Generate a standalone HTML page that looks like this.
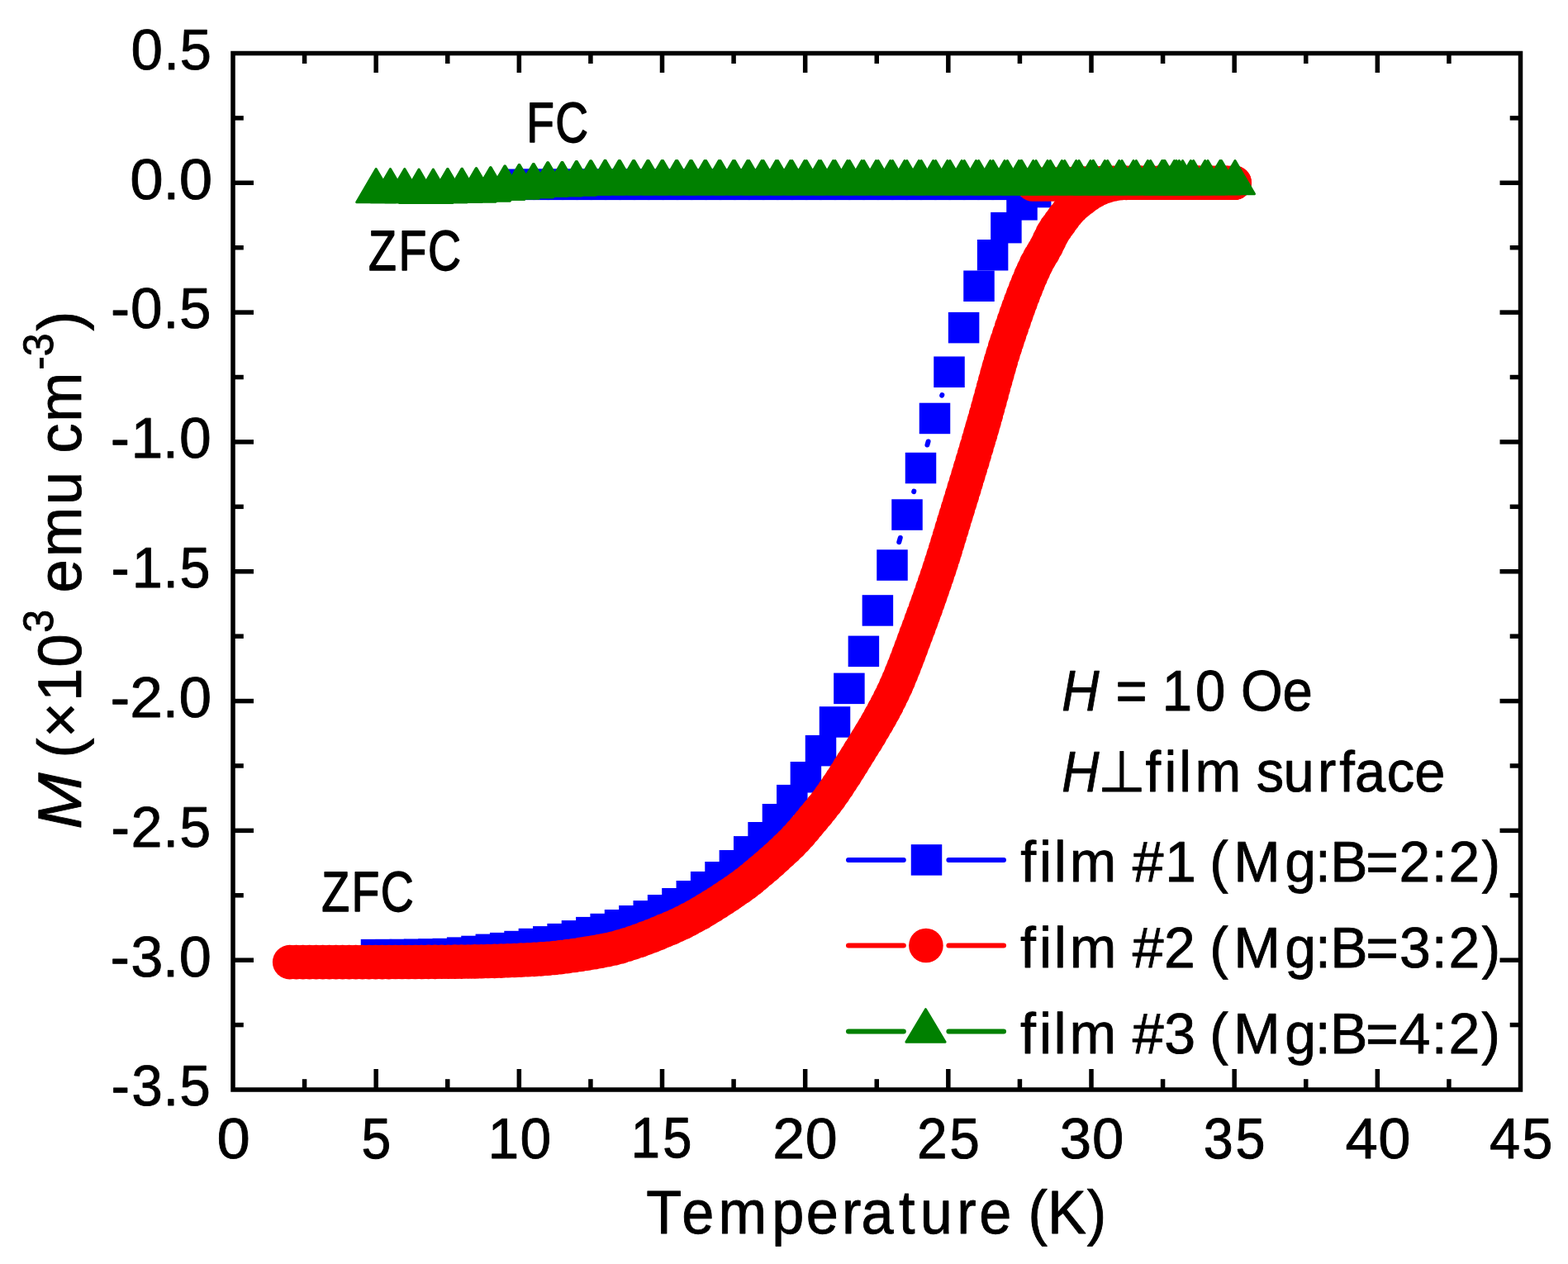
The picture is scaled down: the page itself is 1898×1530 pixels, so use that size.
<!DOCTYPE html>
<html lang="en">
<head>
<meta charset="utf-8">
<title>M vs Temperature</title>
<style>
html,body{margin:0;padding:0;background:#fff;}
body{width:1898px;height:1530px;overflow:hidden;font-family:'Liberation Sans', sans-serif;}
svg{display:block;}
</style>
</head>
<body>
<svg width="1898" height="1530" viewBox="0 0 1898 1530">
<rect x="0" y="0" width="1898" height="1530" fill="#ffffff"/>
<g stroke="#0000ff" stroke-width="6" stroke-linecap="round" fill="none">
<line x1="1088.25" y1="656.10" x2="1089.75" y2="651.00"/>
<line x1="1106.17" y1="595.08" x2="1106.33" y2="594.52"/>
<line x1="1122.43" y1="538.51" x2="1123.57" y2="534.49"/>
<line x1="1140.16" y1="478.63" x2="1140.34" y2="478.07"/>
</g>
<g fill="#0000ff">
<rect x="436.75" y="1136.90" width="37.5" height="37.5"/>
<rect x="454.11" y="1136.90" width="37.5" height="37.5"/>
<rect x="471.46" y="1136.80" width="37.5" height="37.5"/>
<rect x="488.81" y="1136.60" width="37.5" height="37.5"/>
<rect x="506.17" y="1136.30" width="37.5" height="37.5"/>
<rect x="523.52" y="1135.80" width="37.5" height="37.5"/>
<rect x="540.88" y="1134.40" width="37.5" height="37.5"/>
<rect x="558.24" y="1132.70" width="37.5" height="37.5"/>
<rect x="575.59" y="1130.60" width="37.5" height="37.5"/>
<rect x="592.94" y="1128.90" width="37.5" height="37.5"/>
<rect x="610.30" y="1126.80" width="37.5" height="37.5"/>
<rect x="627.65" y="1123.80" width="37.5" height="37.5"/>
<rect x="645.01" y="1121.10" width="37.5" height="37.5"/>
<rect x="662.37" y="1117.90" width="37.5" height="37.5"/>
<rect x="679.72" y="1114.10" width="37.5" height="37.5"/>
<rect x="697.08" y="1109.90" width="37.5" height="37.5"/>
<rect x="714.43" y="1105.80" width="37.5" height="37.5"/>
<rect x="731.79" y="1101.00" width="37.5" height="37.5"/>
<rect x="749.14" y="1096.00" width="37.5" height="37.5"/>
<rect x="766.50" y="1090.10" width="37.5" height="37.5"/>
<rect x="783.85" y="1083.00" width="37.5" height="37.5"/>
<rect x="801.20" y="1075.00" width="37.5" height="37.5"/>
<rect x="818.56" y="1066.00" width="37.5" height="37.5"/>
<rect x="835.91" y="1054.90" width="37.5" height="37.5"/>
<rect x="853.27" y="1043.00" width="37.5" height="37.5"/>
<rect x="870.62" y="1029.00" width="37.5" height="37.5"/>
<rect x="887.98" y="1012.10" width="37.5" height="37.5"/>
<rect x="905.34" y="995.00" width="37.5" height="37.5"/>
<rect x="922.69" y="973.00" width="37.5" height="37.5"/>
<rect x="940.05" y="949.90" width="37.5" height="37.5"/>
<rect x="956.65" y="922.00" width="37.5" height="37.5"/>
<rect x="974.75" y="889.90" width="37.5" height="37.5"/>
<rect x="991.75" y="855.20" width="37.5" height="37.5"/>
<rect x="1009.15" y="814.60" width="37.5" height="37.5"/>
<rect x="1026.65" y="769.60" width="37.5" height="37.5"/>
<rect x="1043.65" y="720.20" width="37.5" height="37.5"/>
<rect x="1061.25" y="665.30" width="37.5" height="37.5"/>
<rect x="1079.25" y="604.30" width="37.5" height="37.5"/>
<rect x="1095.75" y="547.80" width="37.5" height="37.5"/>
<rect x="1112.75" y="487.70" width="37.5" height="37.5"/>
<rect x="1130.25" y="431.50" width="37.5" height="37.5"/>
<rect x="1147.85" y="377.90" width="37.5" height="37.5"/>
<rect x="1166.25" y="327.50" width="37.5" height="37.5"/>
<rect x="1182.85" y="290.00" width="37.5" height="37.5"/>
<rect x="1199.15" y="256.90" width="37.5" height="37.5"/>
<rect x="1218.25" y="229.10" width="37.5" height="37.5"/>
<rect x="1234.95" y="213.80" width="37.5" height="37.5"/>
<rect x="610.30" y="204.55" width="37.5" height="37.5"/>
<rect x="627.65" y="204.55" width="37.5" height="37.5"/>
<rect x="645.01" y="204.55" width="37.5" height="37.5"/>
<rect x="662.37" y="204.55" width="37.5" height="37.5"/>
<rect x="679.72" y="204.55" width="37.5" height="37.5"/>
<rect x="697.08" y="204.55" width="37.5" height="37.5"/>
<rect x="714.43" y="204.55" width="37.5" height="37.5"/>
<rect x="731.79" y="204.55" width="37.5" height="37.5"/>
<rect x="749.14" y="204.55" width="37.5" height="37.5"/>
<rect x="766.50" y="204.55" width="37.5" height="37.5"/>
<rect x="783.85" y="204.55" width="37.5" height="37.5"/>
<rect x="801.20" y="204.55" width="37.5" height="37.5"/>
<rect x="818.56" y="204.55" width="37.5" height="37.5"/>
<rect x="835.91" y="204.55" width="37.5" height="37.5"/>
<rect x="853.27" y="204.55" width="37.5" height="37.5"/>
<rect x="870.62" y="204.55" width="37.5" height="37.5"/>
<rect x="887.98" y="204.55" width="37.5" height="37.5"/>
<rect x="905.34" y="204.55" width="37.5" height="37.5"/>
<rect x="922.69" y="204.55" width="37.5" height="37.5"/>
<rect x="940.05" y="204.55" width="37.5" height="37.5"/>
<rect x="957.40" y="204.55" width="37.5" height="37.5"/>
<rect x="974.75" y="204.55" width="37.5" height="37.5"/>
<rect x="992.11" y="204.55" width="37.5" height="37.5"/>
<rect x="1009.47" y="204.55" width="37.5" height="37.5"/>
<rect x="1026.82" y="204.55" width="37.5" height="37.5"/>
<rect x="1044.18" y="204.55" width="37.5" height="37.5"/>
<rect x="1061.53" y="204.55" width="37.5" height="37.5"/>
<rect x="1078.88" y="204.55" width="37.5" height="37.5"/>
<rect x="1096.24" y="204.55" width="37.5" height="37.5"/>
<rect x="1113.60" y="204.55" width="37.5" height="37.5"/>
<rect x="1130.95" y="204.55" width="37.5" height="37.5"/>
<rect x="1148.31" y="204.55" width="37.5" height="37.5"/>
<rect x="1165.66" y="204.55" width="37.5" height="37.5"/>
<rect x="1183.01" y="204.55" width="37.5" height="37.5"/>
<rect x="1200.37" y="204.55" width="37.5" height="37.5"/>
<rect x="1217.72" y="204.55" width="37.5" height="37.5"/>
<rect x="1235.08" y="204.55" width="37.5" height="37.5"/>
</g>
<g fill="#ff0000">
<circle cx="350.70" cy="1164.60" r="20.80"/>
<circle cx="358.70" cy="1164.60" r="20.80"/>
<circle cx="366.70" cy="1164.60" r="20.80"/>
<circle cx="374.70" cy="1164.60" r="20.80"/>
<circle cx="382.70" cy="1164.60" r="20.80"/>
<circle cx="390.70" cy="1164.60" r="20.80"/>
<circle cx="398.70" cy="1164.60" r="20.80"/>
<circle cx="406.70" cy="1164.60" r="20.80"/>
<circle cx="414.70" cy="1164.60" r="20.80"/>
<circle cx="422.70" cy="1164.60" r="20.80"/>
<circle cx="430.70" cy="1164.60" r="20.80"/>
<circle cx="438.70" cy="1164.60" r="20.80"/>
<circle cx="446.70" cy="1164.60" r="20.80"/>
<circle cx="454.70" cy="1164.60" r="20.80"/>
<circle cx="462.70" cy="1164.59" r="20.80"/>
<circle cx="470.70" cy="1164.58" r="20.80"/>
<circle cx="478.70" cy="1164.56" r="20.80"/>
<circle cx="486.70" cy="1164.54" r="20.80"/>
<circle cx="494.70" cy="1164.51" r="20.80"/>
<circle cx="502.70" cy="1164.47" r="20.80"/>
<circle cx="510.70" cy="1164.43" r="20.80"/>
<circle cx="518.70" cy="1164.39" r="20.80"/>
<circle cx="526.70" cy="1164.34" r="20.80"/>
<circle cx="534.70" cy="1164.29" r="20.80"/>
<circle cx="542.70" cy="1164.23" r="20.80"/>
<circle cx="550.70" cy="1164.17" r="20.80"/>
<circle cx="558.70" cy="1164.11" r="20.80"/>
<circle cx="566.70" cy="1164.03" r="20.80"/>
<circle cx="574.70" cy="1163.91" r="20.80"/>
<circle cx="582.70" cy="1163.76" r="20.80"/>
<circle cx="590.70" cy="1163.57" r="20.80"/>
<circle cx="598.70" cy="1163.34" r="20.80"/>
<circle cx="606.70" cy="1163.08" r="20.80"/>
<circle cx="614.70" cy="1162.80" r="20.80"/>
<circle cx="622.70" cy="1162.48" r="20.80"/>
<circle cx="630.70" cy="1162.14" r="20.80"/>
<circle cx="638.70" cy="1161.77" r="20.80"/>
<circle cx="646.70" cy="1161.38" r="20.80"/>
<circle cx="654.70" cy="1160.87" r="20.80"/>
<circle cx="662.70" cy="1160.23" r="20.80"/>
<circle cx="670.70" cy="1159.47" r="20.80"/>
<circle cx="678.70" cy="1158.59" r="20.80"/>
<circle cx="686.70" cy="1157.61" r="20.80"/>
<circle cx="694.70" cy="1156.52" r="20.80"/>
<circle cx="702.70" cy="1155.35" r="20.80"/>
<circle cx="710.70" cy="1154.09" r="20.80"/>
<circle cx="718.70" cy="1152.75" r="20.80"/>
<circle cx="726.70" cy="1151.34" r="20.80"/>
<circle cx="734.70" cy="1149.80" r="20.80"/>
<circle cx="742.70" cy="1147.96" r="20.80"/>
<circle cx="750.45" cy="1145.91" r="20.80"/>
<circle cx="758.20" cy="1143.63" r="20.80"/>
<circle cx="765.95" cy="1141.13" r="20.80"/>
<circle cx="773.70" cy="1138.44" r="20.80"/>
<circle cx="781.45" cy="1135.58" r="20.80"/>
<circle cx="788.95" cy="1132.69" r="20.80"/>
<circle cx="796.45" cy="1129.68" r="20.80"/>
<circle cx="803.95" cy="1126.58" r="20.80"/>
<circle cx="811.45" cy="1123.42" r="20.80"/>
<circle cx="818.95" cy="1120.13" r="20.80"/>
<circle cx="826.20" cy="1116.70" r="20.80"/>
<circle cx="833.45" cy="1113.03" r="20.80"/>
<circle cx="840.70" cy="1109.14" r="20.80"/>
<circle cx="847.70" cy="1105.19" r="20.80"/>
<circle cx="854.70" cy="1101.07" r="20.80"/>
<circle cx="861.70" cy="1096.79" r="20.80"/>
<circle cx="868.70" cy="1092.37" r="20.80"/>
<circle cx="875.45" cy="1087.98" r="20.80"/>
<circle cx="882.20" cy="1083.49" r="20.80"/>
<circle cx="888.95" cy="1078.91" r="20.80"/>
<circle cx="895.70" cy="1074.25" r="20.80"/>
<circle cx="902.20" cy="1069.56" r="20.80"/>
<circle cx="908.70" cy="1064.45" r="20.80"/>
<circle cx="914.95" cy="1059.29" r="20.80"/>
<circle cx="921.20" cy="1054.02" r="20.80"/>
<circle cx="927.45" cy="1048.71" r="20.80"/>
<circle cx="933.70" cy="1043.25" r="20.80"/>
<circle cx="939.70" cy="1037.86" r="20.80"/>
<circle cx="945.70" cy="1032.37" r="20.80"/>
<circle cx="951.70" cy="1026.79" r="20.80"/>
<circle cx="957.45" cy="1021.22" r="20.80"/>
<circle cx="963.20" cy="1015.29" r="20.80"/>
<circle cx="968.70" cy="1009.19" r="20.80"/>
<circle cx="973.95" cy="1003.09" r="20.80"/>
<circle cx="979.20" cy="996.85" r="20.80"/>
<circle cx="984.45" cy="990.58" r="20.80"/>
<circle cx="989.70" cy="984.27" r="20.80"/>
<circle cx="994.95" cy="977.81" r="20.80"/>
<circle cx="999.95" cy="971.38" r="20.80"/>
<circle cx="1004.70" cy="964.94" r="20.80"/>
<circle cx="1009.45" cy="958.21" r="20.80"/>
<circle cx="1014.20" cy="951.22" r="20.80"/>
<circle cx="1018.70" cy="944.40" r="20.80"/>
<circle cx="1023.20" cy="937.42" r="20.80"/>
<circle cx="1027.70" cy="930.31" r="20.80"/>
<circle cx="1031.95" cy="923.49" r="20.80"/>
<circle cx="1036.20" cy="916.61" r="20.80"/>
<circle cx="1040.45" cy="909.74" r="20.80"/>
<circle cx="1044.70" cy="902.88" r="20.80"/>
<circle cx="1048.95" cy="895.98" r="20.80"/>
<circle cx="1053.20" cy="889.01" r="20.80"/>
<circle cx="1057.45" cy="881.90" r="20.80"/>
<circle cx="1061.70" cy="874.62" r="20.80"/>
<circle cx="1065.70" cy="867.56" r="20.80"/>
<circle cx="1069.70" cy="860.26" r="20.80"/>
<circle cx="1073.45" cy="853.17" r="20.80"/>
<circle cx="1077.20" cy="845.79" r="20.80"/>
<circle cx="1080.95" cy="838.10" r="20.80"/>
<circle cx="1084.45" cy="830.51" r="20.80"/>
<circle cx="1087.70" cy="823.02" r="20.80"/>
<circle cx="1090.95" cy="815.16" r="20.80"/>
<circle cx="1093.95" cy="807.64" r="20.80"/>
<circle cx="1096.95" cy="799.91" r="20.80"/>
<circle cx="1099.95" cy="792.01" r="20.80"/>
<circle cx="1102.95" cy="783.99" r="20.80"/>
<circle cx="1105.95" cy="775.90" r="20.80"/>
<circle cx="1108.95" cy="767.77" r="20.80"/>
<circle cx="1111.95" cy="759.67" r="20.80"/>
<circle cx="1114.95" cy="751.56" r="20.80"/>
<circle cx="1117.70" cy="744.05" r="20.80"/>
<circle cx="1120.45" cy="736.44" r="20.80"/>
<circle cx="1123.20" cy="728.75" r="20.80"/>
<circle cx="1125.95" cy="720.95" r="20.80"/>
<circle cx="1128.70" cy="713.06" r="20.80"/>
<circle cx="1131.45" cy="705.05" r="20.80"/>
<circle cx="1134.20" cy="696.92" r="20.80"/>
<circle cx="1136.95" cy="688.68" r="20.80"/>
<circle cx="1139.45" cy="681.07" r="20.80"/>
<circle cx="1141.95" cy="673.28" r="20.80"/>
<circle cx="1144.45" cy="665.22" r="20.80"/>
<circle cx="1146.95" cy="657.00" r="20.80"/>
<circle cx="1149.45" cy="648.71" r="20.80"/>
<circle cx="1151.95" cy="640.46" r="20.80"/>
<circle cx="1154.45" cy="632.29" r="20.80"/>
<circle cx="1156.95" cy="624.14" r="20.80"/>
<circle cx="1159.45" cy="616.01" r="20.80"/>
<circle cx="1161.95" cy="607.87" r="20.80"/>
<circle cx="1164.45" cy="599.72" r="20.80"/>
<circle cx="1166.95" cy="591.55" r="20.80"/>
<circle cx="1169.45" cy="583.35" r="20.80"/>
<circle cx="1171.95" cy="575.11" r="20.80"/>
<circle cx="1174.45" cy="566.83" r="20.80"/>
<circle cx="1176.95" cy="558.50" r="20.80"/>
<circle cx="1179.45" cy="550.10" r="20.80"/>
<circle cx="1181.95" cy="541.65" r="20.80"/>
<circle cx="1184.45" cy="533.14" r="20.80"/>
<circle cx="1186.70" cy="525.45" r="20.80"/>
<circle cx="1188.95" cy="517.72" r="20.80"/>
<circle cx="1191.20" cy="509.93" r="20.80"/>
<circle cx="1193.45" cy="501.97" r="20.80"/>
<circle cx="1195.70" cy="493.86" r="20.80"/>
<circle cx="1197.95" cy="485.65" r="20.80"/>
<circle cx="1200.20" cy="477.39" r="20.80"/>
<circle cx="1202.45" cy="469.12" r="20.80"/>
<circle cx="1204.70" cy="460.90" r="20.80"/>
<circle cx="1206.95" cy="452.77" r="20.80"/>
<circle cx="1209.20" cy="444.78" r="20.80"/>
<circle cx="1211.45" cy="436.98" r="20.80"/>
<circle cx="1213.95" cy="428.60" r="20.80"/>
<circle cx="1216.45" cy="420.57" r="20.80"/>
<circle cx="1218.95" cy="412.93" r="20.80"/>
<circle cx="1221.70" cy="404.67" r="20.80"/>
<circle cx="1224.45" cy="396.51" r="20.80"/>
<circle cx="1227.20" cy="388.47" r="20.80"/>
<circle cx="1229.95" cy="380.57" r="20.80"/>
<circle cx="1232.70" cy="372.83" r="20.80"/>
<circle cx="1235.45" cy="365.27" r="20.80"/>
<circle cx="1238.45" cy="357.25" r="20.80"/>
<circle cx="1241.45" cy="349.49" r="20.80"/>
<circle cx="1244.45" cy="342.02" r="20.80"/>
<circle cx="1247.70" cy="334.28" r="20.80"/>
<circle cx="1250.95" cy="326.94" r="20.80"/>
<circle cx="1254.45" cy="319.52" r="20.80"/>
<circle cx="1258.45" cy="312.03" r="20.80"/>
<circle cx="1262.70" cy="305.05" r="20.80"/>
<circle cx="1266.70" cy="297.89" r="20.80"/>
<circle cx="1270.20" cy="290.59" r="20.80"/>
<circle cx="1273.95" cy="282.98" r="20.80"/>
<circle cx="1278.20" cy="276.17" r="20.80"/>
<circle cx="1282.95" cy="269.70" r="20.80"/>
<circle cx="1287.70" cy="263.04" r="20.80"/>
<circle cx="1292.70" cy="256.76" r="20.80"/>
<circle cx="1298.20" cy="250.76" r="20.80"/>
<circle cx="1304.45" cy="245.36" r="20.80"/>
<circle cx="1310.95" cy="240.22" r="20.80"/>
<circle cx="1317.45" cy="235.42" r="20.80"/>
<circle cx="1324.45" cy="231.20" r="20.80"/>
<circle cx="1331.70" cy="227.76" r="20.80"/>
<circle cx="1339.45" cy="225.07" r="20.80"/>
<circle cx="1347.20" cy="223.07" r="20.80"/>
<circle cx="1355.20" cy="221.81" r="20.80"/>
<circle cx="1363.20" cy="221.35" r="20.80"/>
<circle cx="1371.20" cy="221.24" r="20.80"/>
<circle cx="1379.20" cy="221.20" r="20.80"/>
<circle cx="1387.20" cy="221.20" r="20.80"/>
<circle cx="1395.20" cy="221.20" r="20.80"/>
<circle cx="1403.20" cy="221.20" r="20.80"/>
<circle cx="1411.20" cy="221.20" r="20.80"/>
<circle cx="1419.20" cy="221.20" r="20.80"/>
<circle cx="1427.20" cy="221.20" r="20.80"/>
<circle cx="1435.20" cy="221.20" r="20.80"/>
<circle cx="1443.20" cy="221.20" r="20.80"/>
<circle cx="1451.20" cy="221.20" r="20.80"/>
<circle cx="1459.20" cy="221.20" r="20.80"/>
<circle cx="1467.20" cy="221.20" r="20.80"/>
<circle cx="1475.20" cy="221.20" r="20.80"/>
<circle cx="1483.20" cy="221.20" r="20.80"/>
<circle cx="1491.20" cy="221.20" r="20.80"/>
<circle cx="1494.20" cy="221.20" r="20.80"/>
<circle cx="1250.30" cy="223.00" r="20.80"/>
<circle cx="1257.23" cy="223.00" r="20.80"/>
<circle cx="1264.15" cy="223.00" r="20.80"/>
<circle cx="1271.08" cy="223.00" r="20.80"/>
<circle cx="1278.01" cy="223.00" r="20.80"/>
<circle cx="1284.93" cy="223.00" r="20.80"/>
<circle cx="1291.86" cy="222.79" r="20.80"/>
<circle cx="1298.79" cy="222.59" r="20.80"/>
<circle cx="1305.71" cy="222.38" r="20.80"/>
<circle cx="1312.64" cy="222.17" r="20.80"/>
<circle cx="1319.57" cy="221.96" r="20.80"/>
<circle cx="1326.49" cy="221.76" r="20.80"/>
<circle cx="1333.42" cy="221.55" r="20.80"/>
<circle cx="1340.35" cy="221.34" r="20.80"/>
<circle cx="1347.27" cy="221.20" r="20.80"/>
<circle cx="1354.20" cy="221.20" r="20.80"/>
<circle cx="1361.13" cy="221.20" r="20.80"/>
<circle cx="1368.05" cy="221.20" r="20.80"/>
<circle cx="1374.98" cy="221.20" r="20.80"/>
<circle cx="1381.91" cy="221.20" r="20.80"/>
<circle cx="1388.83" cy="221.20" r="20.80"/>
<circle cx="1395.76" cy="221.20" r="20.80"/>
<circle cx="1402.69" cy="221.20" r="20.80"/>
<circle cx="1409.61" cy="221.20" r="20.80"/>
<circle cx="1416.54" cy="221.20" r="20.80"/>
<circle cx="1423.47" cy="221.20" r="20.80"/>
<circle cx="1430.39" cy="221.20" r="20.80"/>
<circle cx="1437.32" cy="221.20" r="20.80"/>
<circle cx="1444.24" cy="221.20" r="20.80"/>
<circle cx="1451.17" cy="221.20" r="20.80"/>
<circle cx="1458.10" cy="221.20" r="20.80"/>
<circle cx="1465.02" cy="221.20" r="20.80"/>
<circle cx="1471.95" cy="221.20" r="20.80"/>
<circle cx="1478.88" cy="221.20" r="20.80"/>
<circle cx="1485.80" cy="221.20" r="20.80"/>
<circle cx="1492.73" cy="221.20" r="20.80"/>
<circle cx="1494.20" cy="221.20" r="20.80"/>
</g>
<g fill="#008000" stroke="#008000" stroke-width="3.0" stroke-linejoin="round">
<path d="M455.20 204.50L478.70 244.80L431.70 244.80Z"/>
<path d="M472.49 204.50L495.99 244.80L448.99 244.80Z"/>
<path d="M489.79 204.50L513.29 244.80L466.29 244.80Z"/>
<path d="M507.08 205.10L530.58 245.40L483.58 245.40Z"/>
<path d="M524.37 205.10L547.87 245.40L500.87 245.40Z"/>
<path d="M541.66 204.50L565.16 244.80L518.16 244.80Z"/>
<path d="M542.04 204.50L565.54 244.80L518.54 244.80Z"/>
<path d="M558.95 204.30L582.45 244.60L535.45 244.60Z"/>
<path d="M559.40 204.30L582.90 244.60L535.90 244.60Z"/>
<path d="M576.25 203.70L599.75 244.00L552.75 244.00Z"/>
<path d="M576.77 203.70L600.27 244.00L553.27 244.00Z"/>
<path d="M593.54 202.70L617.04 243.00L570.04 243.00Z"/>
<path d="M594.14 202.70L617.64 243.00L570.64 243.00Z"/>
<path d="M610.83 201.00L634.33 241.30L587.33 241.30Z"/>
<path d="M611.51 201.00L635.01 241.30L588.01 241.30Z"/>
<path d="M628.12 199.60L651.62 239.90L604.62 239.90Z"/>
<path d="M628.88 199.60L652.38 239.90L605.38 239.90Z"/>
<path d="M645.42 198.50L668.92 238.80L621.92 238.80Z"/>
<path d="M646.24 198.50L669.74 238.80L622.74 238.80Z"/>
<path d="M662.71 196.80L686.21 237.10L639.21 237.10Z"/>
<path d="M663.61 196.80L687.11 237.10L640.11 237.10Z"/>
<path d="M680.00 196.50L703.50 236.80L656.50 236.80Z"/>
<path d="M680.98 196.50L704.48 236.80L657.48 236.80Z"/>
<path d="M697.29 195.60L720.79 235.90L673.79 235.90Z"/>
<path d="M698.34 195.60L721.84 235.90L674.84 235.90Z"/>
<path d="M714.59 194.80L738.09 235.10L691.09 235.10Z"/>
<path d="M715.71 194.80L739.21 235.10L692.21 235.10Z"/>
<path d="M731.88 194.40L755.38 234.70L708.38 234.70Z"/>
<path d="M733.08 194.40L756.58 234.70L709.58 234.70Z"/>
<path d="M749.17 194.50L772.67 234.80L725.67 234.80Z"/>
<path d="M750.45 194.50L773.95 234.80L726.95 234.80Z"/>
<path d="M766.46 194.50L789.96 234.80L742.96 234.80Z"/>
<path d="M767.81 194.50L791.31 234.80L744.31 234.80Z"/>
<path d="M783.76 194.50L807.26 234.80L760.26 234.80Z"/>
<path d="M785.18 194.50L808.68 234.80L761.68 234.80Z"/>
<path d="M801.05 194.50L824.55 234.80L777.55 234.80Z"/>
<path d="M802.55 194.50L826.05 234.80L779.05 234.80Z"/>
<path d="M818.34 194.50L841.84 234.80L794.84 234.80Z"/>
<path d="M819.92 194.50L843.42 234.80L796.42 234.80Z"/>
<path d="M835.63 194.50L859.13 234.80L812.13 234.80Z"/>
<path d="M837.29 194.50L860.79 234.80L813.79 234.80Z"/>
<path d="M852.93 194.50L876.43 234.80L829.43 234.80Z"/>
<path d="M854.65 194.50L878.15 234.80L831.15 234.80Z"/>
<path d="M870.22 194.50L893.72 234.80L846.72 234.80Z"/>
<path d="M872.02 194.50L895.52 234.80L848.52 234.80Z"/>
<path d="M887.51 194.50L911.01 234.80L864.01 234.80Z"/>
<path d="M889.39 194.50L912.89 234.80L865.89 234.80Z"/>
<path d="M904.80 194.50L928.30 234.80L881.30 234.80Z"/>
<path d="M906.75 194.50L930.25 234.80L883.25 234.80Z"/>
<path d="M922.10 194.50L945.60 234.80L898.60 234.80Z"/>
<path d="M924.12 194.50L947.62 234.80L900.62 234.80Z"/>
<path d="M939.39 194.50L962.89 234.80L915.89 234.80Z"/>
<path d="M941.49 194.50L964.99 234.80L917.99 234.80Z"/>
<path d="M956.68 194.50L980.18 234.80L933.18 234.80Z"/>
<path d="M958.86 194.50L982.36 234.80L935.36 234.80Z"/>
<path d="M973.97 194.50L997.47 234.80L950.47 234.80Z"/>
<path d="M976.22 194.50L999.72 234.80L952.72 234.80Z"/>
<path d="M991.27 194.50L1014.77 234.80L967.77 234.80Z"/>
<path d="M993.59 194.50L1017.09 234.80L970.09 234.80Z"/>
<path d="M1008.56 194.50L1032.06 234.80L985.06 234.80Z"/>
<path d="M1010.96 194.50L1034.46 234.80L987.46 234.80Z"/>
<path d="M1025.85 194.50L1049.35 234.80L1002.35 234.80Z"/>
<path d="M1028.33 194.50L1051.83 234.80L1004.83 234.80Z"/>
<path d="M1043.14 194.50L1066.64 234.80L1019.64 234.80Z"/>
<path d="M1045.69 194.50L1069.19 234.80L1022.19 234.80Z"/>
<path d="M1060.44 194.50L1083.94 234.80L1036.94 234.80Z"/>
<path d="M1063.06 194.50L1086.56 234.80L1039.56 234.80Z"/>
<path d="M1077.73 194.50L1101.23 234.80L1054.23 234.80Z"/>
<path d="M1080.43 194.50L1103.93 234.80L1056.93 234.80Z"/>
<path d="M1095.02 194.50L1118.52 234.80L1071.52 234.80Z"/>
<path d="M1097.80 194.50L1121.30 234.80L1074.30 234.80Z"/>
<path d="M1112.32 194.50L1135.82 234.80L1088.82 234.80Z"/>
<path d="M1115.16 194.50L1138.66 234.80L1091.66 234.80Z"/>
<path d="M1129.61 194.50L1153.11 234.80L1106.11 234.80Z"/>
<path d="M1132.53 194.50L1156.03 234.80L1109.03 234.80Z"/>
<path d="M1146.90 194.50L1170.40 234.80L1123.40 234.80Z"/>
<path d="M1149.90 194.50L1173.40 234.80L1126.40 234.80Z"/>
<path d="M1164.19 194.50L1187.69 234.80L1140.69 234.80Z"/>
<path d="M1167.27 194.50L1190.77 234.80L1143.77 234.80Z"/>
<path d="M1181.48 194.50L1204.98 234.80L1157.98 234.80Z"/>
<path d="M1184.63 194.50L1208.13 234.80L1161.13 234.80Z"/>
<path d="M1198.78 194.50L1222.28 234.80L1175.28 234.80Z"/>
<path d="M1202.00 194.50L1225.50 234.80L1178.50 234.80Z"/>
<path d="M1216.07 194.50L1239.57 234.80L1192.57 234.80Z"/>
<path d="M1219.37 194.50L1242.87 234.80L1195.87 234.80Z"/>
<path d="M1233.40 194.50L1256.90 234.80L1209.90 234.80Z"/>
<path d="M1236.70 194.50L1260.20 234.80L1213.20 234.80Z"/>
<path d="M1250.73 194.50L1274.23 234.80L1227.23 234.80Z"/>
<path d="M1254.03 194.50L1277.53 234.80L1230.53 234.80Z"/>
<path d="M1268.06 194.50L1291.56 234.80L1244.56 234.80Z"/>
<path d="M1271.36 194.50L1294.86 234.80L1247.86 234.80Z"/>
<path d="M1285.39 194.50L1308.89 234.80L1261.89 234.80Z"/>
<path d="M1288.69 194.50L1312.19 234.80L1265.19 234.80Z"/>
<path d="M1302.72 194.50L1326.22 234.80L1279.22 234.80Z"/>
<path d="M1306.02 194.50L1329.52 234.80L1282.52 234.80Z"/>
<path d="M1320.05 194.50L1343.55 234.80L1296.55 234.80Z"/>
<path d="M1323.35 194.50L1346.85 234.80L1299.85 234.80Z"/>
<path d="M1337.38 194.50L1360.88 234.80L1313.88 234.80Z"/>
<path d="M1340.68 194.50L1364.18 234.80L1317.18 234.80Z"/>
<path d="M1354.71 194.50L1378.21 234.80L1331.21 234.80Z"/>
<path d="M1358.01 194.50L1381.51 234.80L1334.51 234.80Z"/>
<path d="M1372.04 194.50L1395.54 234.80L1348.54 234.80Z"/>
<path d="M1375.34 194.50L1398.84 234.80L1351.84 234.80Z"/>
<path d="M1389.37 194.50L1412.87 234.80L1365.87 234.80Z"/>
<path d="M1392.67 194.50L1416.17 234.80L1369.17 234.80Z"/>
<path d="M1406.70 194.50L1430.20 234.80L1383.20 234.80Z"/>
<path d="M1410.00 194.50L1433.50 234.80L1386.50 234.80Z"/>
<path d="M1424.03 194.50L1447.53 234.80L1400.53 234.80Z"/>
<path d="M1427.33 194.50L1450.83 234.80L1403.83 234.80Z"/>
<path d="M1441.36 194.50L1464.86 234.80L1417.86 234.80Z"/>
<path d="M1444.66 194.50L1468.16 234.80L1421.16 234.80Z"/>
<path d="M1458.69 194.50L1482.19 234.80L1435.19 234.80Z"/>
<path d="M1461.99 194.50L1485.49 234.80L1438.49 234.80Z"/>
<path d="M1476.84 194.50L1500.34 234.80L1453.34 234.80Z"/>
<path d="M1478.49 194.50L1501.99 234.80L1454.99 234.80Z"/>
<path d="M1495.00 194.50L1518.50 234.80L1471.50 234.80Z"/>
<path d="M1236.00 194.50L1259.50 234.80L1212.50 234.80Z"/>
<path d="M1323.30 194.50L1346.80 234.80L1299.80 234.80Z"/>
<path d="M1408.50 194.50L1432.00 234.80L1385.00 234.80Z"/>
<path d="M1421.50 194.50L1445.00 234.80L1398.00 234.80Z"/>
<path d="M1431.50 194.50L1455.00 234.80L1408.00 234.80Z"/>
</g>
<g stroke="#000" stroke-width="5.5" fill="none" stroke-linecap="butt">
<rect x="282.0" y="64.5" width="1558.5" height="1254.5"/>
<line x1="368.58" y1="1319.0" x2="368.58" y2="1306.2"/>
<line x1="368.58" y1="64.5" x2="368.58" y2="77.0"/>
<line x1="455.17" y1="1319.0" x2="455.17" y2="1294.0"/>
<line x1="455.17" y1="64.5" x2="455.17" y2="88.0"/>
<line x1="541.75" y1="1319.0" x2="541.75" y2="1306.2"/>
<line x1="541.75" y1="64.5" x2="541.75" y2="77.0"/>
<line x1="628.33" y1="1319.0" x2="628.33" y2="1294.0"/>
<line x1="628.33" y1="64.5" x2="628.33" y2="88.0"/>
<line x1="714.92" y1="1319.0" x2="714.92" y2="1306.2"/>
<line x1="714.92" y1="64.5" x2="714.92" y2="77.0"/>
<line x1="801.50" y1="1319.0" x2="801.50" y2="1294.0"/>
<line x1="801.50" y1="64.5" x2="801.50" y2="88.0"/>
<line x1="888.08" y1="1319.0" x2="888.08" y2="1306.2"/>
<line x1="888.08" y1="64.5" x2="888.08" y2="77.0"/>
<line x1="974.67" y1="1319.0" x2="974.67" y2="1294.0"/>
<line x1="974.67" y1="64.5" x2="974.67" y2="88.0"/>
<line x1="1061.25" y1="1319.0" x2="1061.25" y2="1306.2"/>
<line x1="1061.25" y1="64.5" x2="1061.25" y2="77.0"/>
<line x1="1147.83" y1="1319.0" x2="1147.83" y2="1294.0"/>
<line x1="1147.83" y1="64.5" x2="1147.83" y2="88.0"/>
<line x1="1234.42" y1="1319.0" x2="1234.42" y2="1306.2"/>
<line x1="1234.42" y1="64.5" x2="1234.42" y2="77.0"/>
<line x1="1321.00" y1="1319.0" x2="1321.00" y2="1294.0"/>
<line x1="1321.00" y1="64.5" x2="1321.00" y2="88.0"/>
<line x1="1407.58" y1="1319.0" x2="1407.58" y2="1306.2"/>
<line x1="1407.58" y1="64.5" x2="1407.58" y2="77.0"/>
<line x1="1494.17" y1="1319.0" x2="1494.17" y2="1294.0"/>
<line x1="1494.17" y1="64.5" x2="1494.17" y2="88.0"/>
<line x1="1580.75" y1="1319.0" x2="1580.75" y2="1306.2"/>
<line x1="1580.75" y1="64.5" x2="1580.75" y2="77.0"/>
<line x1="1667.33" y1="1319.0" x2="1667.33" y2="1294.0"/>
<line x1="1667.33" y1="64.5" x2="1667.33" y2="88.0"/>
<line x1="1753.92" y1="1319.0" x2="1753.92" y2="1306.2"/>
<line x1="1753.92" y1="64.5" x2="1753.92" y2="77.0"/>
<line x1="282.0" y1="142.91" x2="294.8" y2="142.91"/>
<line x1="1840.5" y1="142.91" x2="1827.7" y2="142.91"/>
<line x1="282.0" y1="221.31" x2="307.0" y2="221.31"/>
<line x1="1840.5" y1="221.31" x2="1815.5" y2="221.31"/>
<line x1="282.0" y1="299.72" x2="294.8" y2="299.72"/>
<line x1="1840.5" y1="299.72" x2="1827.7" y2="299.72"/>
<line x1="282.0" y1="378.12" x2="307.0" y2="378.12"/>
<line x1="1840.5" y1="378.12" x2="1815.5" y2="378.12"/>
<line x1="282.0" y1="456.53" x2="294.8" y2="456.53"/>
<line x1="1840.5" y1="456.53" x2="1827.7" y2="456.53"/>
<line x1="282.0" y1="534.94" x2="307.0" y2="534.94"/>
<line x1="1840.5" y1="534.94" x2="1815.5" y2="534.94"/>
<line x1="282.0" y1="613.34" x2="294.8" y2="613.34"/>
<line x1="1840.5" y1="613.34" x2="1827.7" y2="613.34"/>
<line x1="282.0" y1="691.75" x2="307.0" y2="691.75"/>
<line x1="1840.5" y1="691.75" x2="1815.5" y2="691.75"/>
<line x1="282.0" y1="770.16" x2="294.8" y2="770.16"/>
<line x1="1840.5" y1="770.16" x2="1827.7" y2="770.16"/>
<line x1="282.0" y1="848.56" x2="307.0" y2="848.56"/>
<line x1="1840.5" y1="848.56" x2="1815.5" y2="848.56"/>
<line x1="282.0" y1="926.97" x2="294.8" y2="926.97"/>
<line x1="1840.5" y1="926.97" x2="1827.7" y2="926.97"/>
<line x1="282.0" y1="1005.38" x2="307.0" y2="1005.38"/>
<line x1="1840.5" y1="1005.38" x2="1815.5" y2="1005.38"/>
<line x1="282.0" y1="1083.78" x2="294.8" y2="1083.78"/>
<line x1="1840.5" y1="1083.78" x2="1827.7" y2="1083.78"/>
<line x1="282.0" y1="1162.19" x2="307.0" y2="1162.19"/>
<line x1="1840.5" y1="1162.19" x2="1815.5" y2="1162.19"/>
<line x1="282.0" y1="1240.59" x2="294.8" y2="1240.59"/>
<line x1="1840.5" y1="1240.59" x2="1827.7" y2="1240.59"/>
</g>
<g stroke="#0000ff" stroke-width="6" stroke-linecap="round"><line x1="1027" y1="1040.9" x2="1093.8" y2="1040.9"/><line x1="1148.4" y1="1040.9" x2="1215" y2="1040.9"/></g>
<rect x="1102.75" y="1022.15" width="37.5" height="37.5" fill="#0000ff"/>
<g stroke="#ff0000" stroke-width="6" stroke-linecap="round"><line x1="1027" y1="1144.5" x2="1093.8" y2="1144.5"/><line x1="1148.4" y1="1144.5" x2="1215" y2="1144.5"/></g>
<circle cx="1120.90" cy="1144.5" r="20.8" fill="#ff0000"/>
<g stroke="#008000" stroke-width="6" stroke-linecap="round"><line x1="1027" y1="1248.4" x2="1093.8" y2="1248.4"/><line x1="1148.4" y1="1248.4" x2="1215" y2="1248.4"/></g>
<path d="M1120.50 1221.70L1144.10 1261.30L1096.90 1261.30Z" fill="#008000" stroke="#008000" stroke-width="3.0" stroke-linejoin="round"/>
<g font-family="'Liberation Sans', sans-serif" fill="#000" stroke="#000" stroke-linejoin="round" text-rendering="geometricPrecision">
<text transform="translate(0,1401.60) scale(1.0433,1)" y="0" font-size="69.57px" stroke-width="0.80"><tspan x="251.7">0</tspan></text>
<text transform="translate(0,1401.51) scale(0.9272,1)" y="0" font-size="69.32px" stroke-width="0.97"><tspan x="471.8">5</tspan></text>
<text transform="translate(0,1401.60) scale(0.9744,1)" y="0" font-size="69.57px" stroke-width="0.80"><tspan x="606.0 646.1">10</tspan></text>
<text transform="translate(0,1401.49) scale(0.9132,1)" y="0" font-size="69.24px" stroke-width="1.03"><tspan x="836.4 878.6">15</tspan></text>
<text transform="translate(0,1401.60) scale(1.0064,1)" y="0" font-size="69.57px" stroke-width="0.80"><tspan x="929.2 968.6">20</tspan></text>
<text transform="translate(0,1401.56) scale(0.9481,1)" y="0" font-size="69.44px" stroke-width="0.89"><tspan x="1170.7 1212.2">25</tspan></text>
<text transform="translate(0,1401.60) scale(0.9908,1)" y="0" font-size="69.57px" stroke-width="0.80"><tspan x="1294.7 1334.2">30</tspan></text>
<text transform="translate(0,1401.53) scale(0.9329,1)" y="0" font-size="69.35px" stroke-width="0.95"><tspan x="1561.6 1603.2">35</tspan></text>
<text transform="translate(0,1401.60) scale(1.0159,1)" y="0" font-size="69.57px" stroke-width="0.80"><tspan x="1603.1 1642.1">40</tspan></text>
<text transform="translate(0,1401.58) scale(0.9607,1)" y="0" font-size="69.51px" stroke-width="0.84"><tspan x="1876.7 1917.5">45</tspan></text>
<text transform="translate(0,83.80) scale(0.9951,1)" y="0" font-size="69.57px" stroke-width="0.80"><tspan x="159.3 199.0 218.7">0.5</tspan></text>
<text transform="translate(0,240.60) scale(1.0458,1)" y="0" font-size="69.57px" stroke-width="0.80"><tspan x="150.3 188.5 207.2">0.0</tspan></text>
<text transform="translate(0,397.40) scale(0.9968,1)" y="0" font-size="69.57px" stroke-width="0.80"><tspan x="134.5 158.6 197.9 217.6">-0.5</tspan></text>
<text transform="translate(0,554.20) scale(1.0019,1)" y="0" font-size="69.57px" stroke-width="0.80"><tspan x="133.4 158.2 196.5 216.5">-1.0</tspan></text>
<text transform="translate(0,711.08) scale(0.9583,1)" y="0" font-size="69.50px" stroke-width="0.85"><tspan x="140.4 166.7 206.2 227.1">-1.5</tspan></text>
<text transform="translate(0,867.90) scale(1.0245,1)" y="0" font-size="69.57px" stroke-width="0.80"><tspan x="130.2 153.6 191.9 211.3">-2.0</tspan></text>
<text transform="translate(0,1024.70) scale(0.9828,1)" y="0" font-size="69.57px" stroke-width="0.80"><tspan x="136.6 161.3 200.8 221.0">-2.5</tspan></text>
<text transform="translate(0,1181.50) scale(1.0129,1)" y="0" font-size="69.57px" stroke-width="0.80"><tspan x="131.8 156.2 194.2 213.9">-3.0</tspan></text>
<text transform="translate(0,1338.30) scale(0.9717,1)" y="0" font-size="69.57px" stroke-width="0.80"><tspan x="138.3 164.0 203.2 223.7">-3.5</tspan></text>
<text transform="translate(0,1067.20) scale(0.9744,1)" y="0" font-size="69.57px" stroke-width="0.80"><tspan x="1267.6 1291.1 1309.2 1328.8 1386.8 1406.9 1447.2 1486.2 1502.7 1532.4 1596.2 1633.8 1652.6 1696.7 1738.0 1778.3 1799.7 1840.5">film #1 (Mg:B=2:2)</tspan></text>
<text transform="translate(0,1170.90) scale(0.9770,1)" y="0" font-size="69.57px" stroke-width="0.80"><tspan x="1264.2 1287.6 1305.7 1325.2 1383.1 1403.1 1442.3 1482.3 1498.7 1528.3 1591.9 1629.4 1648.1 1692.2 1733.9 1773.6 1794.8 1835.6">film #2 (Mg:B=3:2)</tspan></text>
<text transform="translate(0,1274.70) scale(0.9787,1)" y="0" font-size="69.57px" stroke-width="0.80"><tspan x="1261.9 1285.3 1303.3 1322.7 1380.6 1400.6 1439.8 1479.6 1496.0 1525.5 1589.0 1626.4 1645.1 1689.1 1730.4 1770.4 1791.6 1832.3">film #3 (Mg:B=4:2)</tspan></text>
<text transform="translate(0,859.54) scale(0.9400,1)" y="0" font-size="69.39px" stroke-width="0.92"><tspan x="1367.4" textLength="48.1" lengthAdjust="spacingAndGlyphs" font-style="italic">H</tspan> <tspan x="1436.6 1478.0 1496.5 1539.4 1579.4 1597.8 1651.6">= 10 Oe</tspan></text>
<text transform="translate(0,957.59) scale(0.9630,1)" y="0" font-size="69.52px" stroke-width="0.83"><tspan x="1334.7" textLength="47.0" lengthAdjust="spacingAndGlyphs" font-style="italic">H</tspan><tspan x="1379.9" font-family="'DejaVu Sans', 'Liberation Sans', sans-serif">⊥</tspan><tspan x="1439.9 1463.7 1482.0 1502.1 1561.2 1579.2 1613.2 1656.3 1683.6 1703.1 1743.2 1778.0">film surface</tspan></text>
<text transform="translate(0,172.07) scale(0.8030,1)" y="0" font-size="68.60px" stroke-width="1.47"><tspan x="793.6 837.1">FC</tspan></text>
<text transform="translate(0,327.28) scale(0.8077,1)" y="0" font-size="68.62px" stroke-width="1.45"><tspan x="552.3 597.3 641.3">ZFC</tspan></text>
<text transform="translate(0,1103.08) scale(0.8077,1)" y="0" font-size="68.62px" stroke-width="1.45"><tspan x="481.9 526.7 570.6">ZFC</tspan></text>
<text transform="translate(0,1492.55) scale(0.9455,1)" y="0" font-size="74.35px" stroke-width="0.90"><tspan x="827.4 872.9 919.7 988.1 1032.1 1077.7 1102.6 1150.7 1178.0 1225.1 1253.7 1298.2 1316.2 1341.1 1391.5">Temperature (K)</tspan></text>
<text transform="translate(97.60,1002.00) rotate(-90) scale(0.9745,1)" y="0" font-size="74.49px" stroke-width="0.80"><tspan x="-1.7" textLength="70.0" lengthAdjust="spacingAndGlyphs" font-style="italic">M</tspan> <tspan x="86.7 112.1 157.0 199.4">(×10</tspan><tspan x="242.5" dy="-33.5" font-size="51.40px">3</tspan> <tspan x="292.0 336.3 401.1 444.5 465.1 503.8" dy="33.5">emu cm</tspan><tspan x="568.7 585.6" dy="-33.5" font-size="51.40px">-3</tspan><tspan x="616.9" dy="33.5">)</tspan></text>
</g>
</svg>
</body>
</html>
